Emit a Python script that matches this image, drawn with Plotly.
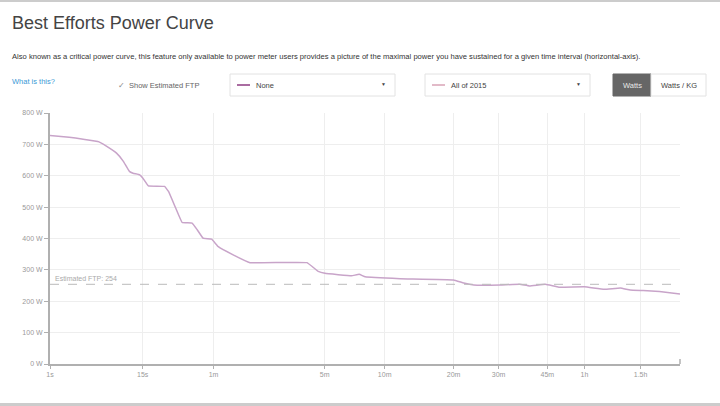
import plotly.graph_objects as go
import numpy as np

# ---- data ----
seconds = [1, 2, 3, 5, 6, 8, 9.5, 11, 12, 14, 15, 17, 24, 26, 30, 34, 41, 45, 50, 58, 65, 83, 108,
           240, 277, 301, 414, 452, 484, 707, 1198, 1318, 1446, 1824, 2154, 2334, 2656, 2954,
           3596, 4167, 4682, 5022, 5499, 6148, 7052]
watts = [728, 723, 717, 708, 696, 672, 646, 614, 608, 603, 593, 568, 566, 550, 497, 451, 449, 428,
         401, 398, 374, 348, 323, 323, 295, 289, 281, 286, 278, 272, 268, 258, 252, 252, 254, 249,
         254, 245, 246, 238, 242, 236, 234, 231, 223]
tick_seconds = [1, 15, 60, 300, 600, 1200, 1800, 2700, 3600, 5400]
tick_labels = ["1s", "15s", "1m", "5m", "10m", "20m", "30m", "45m", "1h", "1.5h"]
y_ticks = [0, 100, 200, 300, 400, 500, 600, 700, 800]
y_tick_labels = [f"{v} W" for v in y_ticks]
ftp = 254

# time axis uses a power scale (t^0.2)
P = 0.2
def tx(t):
    return np.power(np.asarray(t, dtype=float), P)

W, H = 720, 406
L, R, T, B = 50, 40, 113, 42
PW, PH = W - L - R, H - T - B

def px(x):
    return (x - L) / PW

def py(y):
    return 1 - (y - T) / PH

FONT = "Liberation Sans, Arial, sans-serif"

fig = go.Figure()
fig.add_trace(go.Scatter(
    x=tx(seconds), y=watts, mode="lines",
    line=dict(color="#c8a4c9", width=1.5, shape="spline", smoothing=0.2),
    hoverinfo="skip", showlegend=False))

fig.update_layout(
    width=W, height=H, margin=dict(l=L, r=R, t=T, b=B),
    paper_bgcolor="white", plot_bgcolor="white",
    font=dict(family=FONT, color="#999", size=7),
    xaxis=dict(range=[float(tx(1)), float(tx(seconds[-1]))], tickvals=tx(tick_seconds), ticktext=tick_labels,
               showgrid=True, gridcolor="#eeeeee", gridwidth=1, zeroline=False,
               showline=True, linecolor="#b0b0b0", linewidth=2, ticks="outside", ticklen=3,
               tickcolor="#b0b0b0", tickfont=dict(size=7, color="#999"), fixedrange=True),
    yaxis=dict(range=[0, 800], tickvals=y_ticks, ticktext=y_tick_labels,
               showgrid=True, gridcolor="#eeeeee", gridwidth=1, zeroline=False,
               showline=True, linecolor="#b0b0b0", linewidth=2, ticks="outside", ticklen=4,
               tickcolor="#b0b0b0", tickfont=dict(size=7, color="#999"), fixedrange=True),
)

shapes = []
anns = []
# FTP dashed line
shapes.append(dict(type="line", xref="paper", yref="y", x0=0, x1=1, y0=ftp, y1=ftp,
                   line=dict(color="#bbbbbb", width=1, dash="dash")))
anns.append(dict(xref="paper", yref="y", x=0.004, y=ftp, text="Estimated FTP: " + str(ftp),
                 showarrow=False, xanchor="left", yanchor="bottom",
                 font=dict(size=7, color="#aaa", family=FONT)))
# right end tick of x axis
shapes.append(dict(type="line", xref="paper", yref="paper", x0=1, x1=1, y0=0, y1=py(359),
                   line=dict(color="#b0b0b0", width=1.5)))
# page borders
shapes.append(dict(type="rect", xref="paper", yref="paper", x0=px(0), x1=px(W), y0=py(0), y1=py(2),
                   fillcolor="#cccccc", line=dict(width=0), layer="above"))
shapes.append(dict(type="rect", xref="paper", yref="paper", x0=px(0), x1=px(W), y0=py(403), y1=py(406),
                   fillcolor="#cccccc", line=dict(width=0), layer="above"))

def text(x, y, s, size, color, xanchor="left"):
    anns.append(dict(xref="paper", yref="paper", x=px(x), y=py(y), text=s, showarrow=False,
                     xanchor=xanchor, yanchor="middle", font=dict(size=size, color=color, family=FONT)))

text(10, 23, "Best Efforts Power Curve", 18, "#444")
text(10, 57, "Also known as a critical power curve, this feature only available to power meter users provides a picture "
     "of the maximal power you have sustained for a given time interval (horizontal-axis).", 7.6, "#333")
text(10, 81, "What is this?", 7.5, "#3a9ad6")
text(116, 85, "✓", 8, "#888")
text(127, 85, "Show Estimated FTP", 7.5, "#666")

def box(x0, x1, y0, y1, fill="white", border="#e2e2e2"):
    shapes.append(dict(type="rect", xref="paper", yref="paper", x0=px(x0), x1=px(x1), y0=py(y1), y1=py(y0),
                       fillcolor=fill, line=dict(color=border, width=1)))

box(230, 395, 74, 96)
shapes.append(dict(type="line", xref="paper", yref="paper", x0=px(237), x1=px(250), y0=py(85), y1=py(85),
                   line=dict(color="#8e3b82", width=1.5)))
text(254, 85, "None", 7.5, "#444")
text(383, 84, "▼", 5, "#444", xanchor="center")

box(425, 590, 74, 96)
shapes.append(dict(type="line", xref="paper", yref="paper", x0=px(432), x1=px(445), y0=py(85), y1=py(85),
                   line=dict(color="#d9a3b6", width=1.5)))
text(449, 85, "All of 2015", 7.5, "#444")
text(578, 84, "▼", 5, "#444", xanchor="center")

box(613, 651, 74, 96, fill="#666666", border="#666666")
text(632, 85, "Watts", 7.5, "#e8e8e8", xanchor="center")
box(651, 706, 74, 96)
text(678.5, 85, "Watts / KG", 7.5, "#444", xanchor="center")

fig.update_layout(shapes=shapes, annotations=anns)
fig.write_html("out.html", config={"displayModeBar": False},
               post_script="document.body.style.margin='0px';")
